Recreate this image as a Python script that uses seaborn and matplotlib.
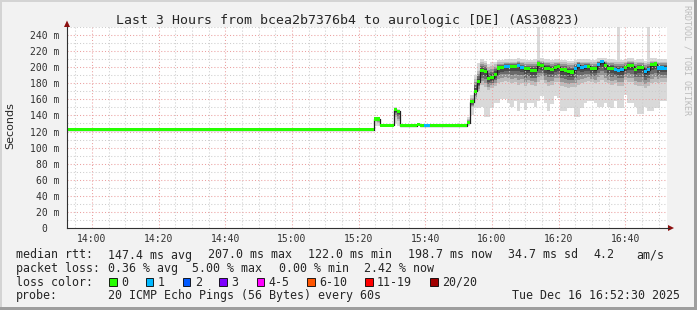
import numpy as np
import pandas as pd
import matplotlib
matplotlib.use("Agg")
import matplotlib.pyplot as plt
from matplotlib.patches import Rectangle, Polygon
from matplotlib.lines import Line2D
import seaborn as sns

# ---------------- data ----------------
title = "Last 3 Hours from bcea2b7376b4 to aurologic [DE] (AS30823)"
start_time = "13:52:30"          # left edge of the time axis
x_tick_labels = ["14:00", "14:20", "14:40", "15:00", "15:20",
                 "15:40", "16:00", "16:20", "16:40"]
y_ticks_ms = [0, 20, 40, 60, 80, 100, 120, 140, 160, 180, 200, 220, 240]
y_tick_labels = ["0  ", "20 m", "40 m", "60 m", "80 m", "100 m", "120 m",
                 "140 m", "160 m", "180 m", "200 m", "220 m", "240 m"]
y_label = "Seconds"

# median rtt per minute (ms), 180 one-minute samples
median_ms = [
    122, 122, 122, 122, 122, 122, 122, 122, 122, 122,
    122, 122, 122, 122, 122, 122, 122, 122, 122, 122,
    122, 122, 122, 122, 122, 122, 122, 122, 122, 122,
    122, 122, 122, 122, 122, 122, 122, 122, 122, 122,
    122, 122, 122, 122, 122, 122, 122, 122, 122, 122,
    122, 122, 122, 122, 122, 122, 122, 122, 122, 122,
    122, 122, 122, 122, 122, 122, 122, 122, 122, 122,
    122, 122, 122, 122, 122, 122, 122, 122, 122, 122,
    122, 122, 122, 122, 122, 122, 122, 122, 122, 122,
    122, 122, 135.6, 135.6, 128, 128, 128, 128, 147, 145,
    127, 127, 127, 127, 127, 129, 127, 127, 127, 127,
    127, 127, 127, 127, 127, 127, 127, 127, 127, 127,
    131, 157, 170, 182, 196, 195, 186, 187, 191, 199,
    200, 201, 201, 201, 201, 202, 199.5, 198, 198, 196,
    196, 204, 202, 198.5, 198.5, 197.6, 199.5, 200.7, 196.6, 196.5,
    194.5, 194, 198.6, 202.4, 199.5, 200.5, 201, 198, 198, 203.7,
    207, 202.4, 198.6, 198.6, 197, 196, 197, 199.7, 202.4, 202,
    197.3, 199.7, 199.5, 194.5, 197, 203, 204, 199, 199, 198.7,
]

# lost pings (of 20) per minute
loss_count = [
    0, 0, 0, 0, 0, 0, 0, 0, 0, 0, 0, 0, 0, 0, 0, 0, 0, 0, 0, 0, 0, 0, 0, 0, 0, 0, 0, 0, 0, 0,
    0, 0, 0, 0, 0, 0, 0, 0, 0, 0, 0, 0, 0, 0, 0, 0, 0, 0, 0, 0, 0, 0, 0, 0, 0, 0, 0, 0, 0, 0,
    0, 0, 0, 0, 0, 0, 0, 0, 0, 0, 0, 0, 0, 0, 0, 0, 0, 0, 0, 0, 0, 0, 0, 0, 0, 0, 0, 0, 0, 0,
    0, 0, 0, 0, 0, 0, 0, 0, 0, 0, 0, 0, 0, 0, 0, 0, 0, 1, 1, 0, 0, 0, 0, 0, 0, 0, 0, 0, 0, 0,
    0, 0, 0, 0, 0, 0, 0, 0, 0, 0, 0, 1, 1, 0, 0, 1, 1, 0, 0, 0, 0, 0, 0, 0, 0, 0, 0, 0, 0, 0,
    0, 0, 1, 1, 1, 1, 0, 0, 0, 1, 1, 0, 0, 0, 1, 1, 1, 0, 0, 0, 0, 0, 0, 1, 1, 0, 0, 1, 1, 1,
]

# smoke (distribution of the 20 pings) from minute 90 on
smoke_first_minute = 90
smoke_min = [
    122, 122, 127, 127, 127.5, 127.5, 127.5, 127.5, 130, 127,
    126.5, 126.5, 126.5, 126.5, 126.5, 127, 126.5, 126.5, 126.5, 126.5,
    126.5, 126.5, 126.5, 126.5, 126.5, 126.5, 126.5, 126.5, 126.5, 126.5,
    127, 140, 149, 149, 150, 138.5, 138, 149, 156, 156,
    160, 160, 156, 150, 158, 145, 156, 147, 156, 156,
    150, 158, 164, 156, 145, 154, 164, 162, 145, 145,
    149, 149, 137.5, 137.5, 149, 155, 158, 158, 155, 151,
    151, 155, 151, 149, 158, 149, 149, 165, 155, 155,
    151, 142, 142, 151, 145, 145, 149, 149, 158, 158,
]
smoke_p25 = [
    122, 122, 132, 130, 128, 128, 128, 128, 138, 133,
    127, 127, 127, 127, 127, 128, 127, 127, 127, 127,
    127, 127, 127, 127, 127, 127, 127, 127, 127, 127,
    129, 150, 160, 170, 178, 175, 172, 174, 176, 180,
    182, 183, 182, 180, 182, 178, 180, 176, 180, 178,
    176, 182, 184, 180, 176, 178, 182, 182, 176, 175,
    174, 175, 175, 178, 180, 182, 183, 181, 180, 182,
    184, 182, 180, 178, 180, 176, 176, 184, 182, 182,
    178, 176, 176, 174, 176, 180, 182, 180, 182, 182,
]
smoke_p75 = [
    122, 122, 137, 136, 128, 128, 128, 128, 149, 146,
    127, 127, 127, 127, 127, 129.5, 127, 127, 127, 127,
    127, 127, 127, 127, 127, 127, 127, 127, 127, 127,
    135, 162, 185, 195, 206, 205, 200, 202, 204, 206,
    206, 207, 207, 207, 207, 208, 207, 206, 206, 206,
    206, 209, 208, 207, 207, 206, 207, 207, 206, 206,
    205, 205, 206, 207, 207, 207, 207, 206, 206, 208,
    209, 208, 207, 207, 206, 206, 206, 207, 208, 208,
    206, 207, 207, 205, 206, 208, 208, 207, 207, 207,
]
smoke_max = [
    122, 122, 138, 137, 128.5, 128.5, 128.5, 128.5, 150, 148,
    127.5, 127.5, 127.5, 127.5, 127.5, 130, 127.5, 127.5, 127.5, 127.5,
    127.5, 127.5, 127.5, 127.5, 127.5, 127.5, 127.5, 130, 127.5, 127.5,
    138, 166, 190, 205, 210, 208, 204, 206, 207, 209,
    209, 210, 210, 210, 210, 211, 210, 209, 209, 209,
    210, 252, 212, 210, 210, 209, 210, 210, 209, 209,
    208, 208, 209, 210, 210, 210, 210, 209, 209, 211,
    212, 211, 210, 210, 209, 252, 209, 210, 211, 211,
    209, 210, 210, 208, 252, 211, 211, 210, 210, 210,
]

loss_levels = ["0", "1", "2", "3", "4-5", "6-10", "11-19", "20/20"]
loss_colors = ["#26ff00", "#00b8ff", "#0059ff", "#7e00ff",
               "#ff00ff", "#ff5500", "#ff0000", "#a10000"]

rtt_label = "median rtt:"
rtt_stats = ["147.4 ms avg", "207.0 ms max", "122.0 ms min",
             "198.7 ms now", "34.7 ms sd", "4.2", "am/s"]
loss_label = "packet loss:"
loss_stats = ["0.36 % avg", "5.00 % max", "0.00 % min", "2.42 % now"]
color_label = "loss color:"
probe_label = "probe:"
probe_text = "20 ICMP Echo Pings (56 Bytes) every 60s"
stamp_text = "Tue Dec 16 16:52:30 2025"
credit_text = "RRDTOOL / TOBI OETIKER"

# ---------------- style ----------------
W, H = 697, 310
BACK = "#f2f2f2"
GRID = "#cdcdcd"
MGRID = "#eba0a0"
AXIS = "#303030"
ARROW = "#8c1010"
MONO = ["DejaVu Sans Mono", "DejaVu Sans"]

sns.set_theme(style="white")
plt.rcParams["font.family"] = MONO

fig = plt.figure(figsize=(W / 100, H / 100), dpi=100, facecolor=BACK)


def fx(px):
    return px / W


def fy(py):
    return 1 - py / H


# 3-D style frame
for (x0, y0, w, h, c) in [(0, 0, 2, H, "#d4d4d4"), (0, 0, W, 2, "#d4d4d4"),
                          (W - 3, 0, 3, H, "#9e9e9e"), (0, H - 3, W, 3, "#9e9e9e")]:
    fig.add_artist(Rectangle((fx(x0), fy(y0 + h)), w / W, h / H,
                             transform=fig.transFigure, color=c, lw=0))

ax = fig.add_axes([fx(67), fy(228), 600 / W, 201 / H])
ax.set_facecolor("white")
ax.set_xlim(0, 180)
ax.set_ylim(0, 250)


def tmin(s):
    parts = [float(p) for p in s.split(":")]
    return parts[0] * 60 + parts[1] + (parts[2] / 60 if len(parts) > 2 else 0)


t0 = tmin(start_time)
x_ticks = [tmin(s) - t0 for s in x_tick_labels]

n = len(median_ms)
minutes = np.arange(n)
med = np.asarray(median_ms, float)


def ext(a):
    a = np.asarray(a, float)
    return np.append(a, a[-1])


# ---- smoke ----
s0 = smoke_first_minute
sx = np.arange(s0, s0 + len(smoke_min) + 1)
med_s = ext(med[s0:])
ax.fill_between(sx, ext(smoke_min), ext(smoke_max), step="post",
                color="#d9d9d9", lw=0, zorder=1)
for f, c in [(1.0, "#bcbcbc"), (0.75, "#959595"), (0.5, "#6a6a6a"),
             (0.3, "#4a4a4a"), (0.12, "#333333")]:
    lo = med_s - f * (med_s - ext(smoke_p25))
    hi = med_s + f * (ext(smoke_p75) - med_s)
    ax.fill_between(sx, lo, hi, step="post", color=c, lw=0, zorder=1)

# ---- grid ----
dots = (0, (1, 2))
for m in np.arange(x_ticks[0] - 5, 180, 5):
    major = any(abs(m - xt) < 1e-6 for xt in x_ticks)
    ax.axvline(m, color=MGRID if major else GRID, lw=0.75, ls=dots, zorder=2)
for v in range(10, 251, 10):
    ax.axhline(v, color=MGRID if v in y_ticks_ms else GRID, lw=0.75, ls=dots, zorder=2)

# ---- median line + loss coloured bars ----
df = pd.DataFrame({"minute": np.append(minutes, n), "rtt": ext(med)})
sns.lineplot(data=df, x="minute", y="rtt", drawstyle="steps-post",
             color="#202020", lw=0.9, estimator=None, ax=ax, zorder=4)


def loss_idx(c):
    if c <= 3:
        return c
    if c <= 5:
        return 4
    if c <= 10:
        return 5
    if c <= 19:
        return 6
    return 7


bar_colors = [loss_colors[loss_idx(c)] for c in loss_count]
half = 1.9
ax.bar(minutes, 2 * half, bottom=med - half, width=1.0, align="edge",
       color=bar_colors, lw=0, zorder=5)

# ---- axes, ticks ----
ax.set_xlabel("")
ax.set_ylabel("")
for s in ["top", "right"]:
    ax.spines[s].set_visible(False)
for s in ["left", "bottom"]:
    ax.spines[s].set_color(AXIS)
    ax.spines[s].set_linewidth(0.8)
    ax.spines[s].set_zorder(6)
ax.set_xticks(x_ticks)
ax.set_xticklabels(x_tick_labels)
ax.set_xticks(np.arange(x_ticks[0] - 5, 180, 5), minor=True)
ax.set_yticks(y_ticks_ms)
ax.set_yticklabels(y_tick_labels)
ax.set_yticks(range(10, 251, 20), minor=True)
ax.tick_params(axis="both", which="major", labelsize=7, colors=AXIS, width=0.8)
ax.tick_params(axis="x", which="major", direction="inout", length=4, pad=2.5)
ax.tick_params(axis="x", which="minor", direction="inout", length=2, width=0.6, colors=AXIS)
ax.tick_params(axis="y", which="major", direction="out", length=3, pad=2.5)
ax.tick_params(axis="y", which="minor", direction="out", length=1.5, width=0.6, colors=AXIS)
for lab in ax.get_xticklabels() + ax.get_yticklabels():
    lab.set_family(MONO)

# arrows
fig.add_artist(Polygon([(fx(64), fy(27)), (fx(70), fy(27)), (fx(67), fy(20.5))],
                       closed=True, transform=fig.transFigure, color=ARROW, lw=0))
fig.add_artist(Line2D([fx(667), fx(669)], [fy(228), fy(228)], transform=fig.transFigure,
                      color=AXIS, lw=0.8))
fig.add_artist(Polygon([(fx(668), fy(225)), (fx(668), fy(231)), (fx(674), fy(228))],
                       closed=True, transform=fig.transFigure, color=ARROW, lw=0))

# ---- texts ----
fig.text(fx(347.5), fy(24), title, ha="center", va="baseline", fontsize=9.5, family=MONO)
fig.text(fx(10), fy(126), y_label, rotation=90, ha="center", va="center",
         fontsize=8, family=["DejaVu Sans"])
fig.text(fx(687), fy(60), credit_text, rotation=270, ha="center", va="center",
         fontsize=6, color="#bcbcbc", family=MONO)

LFS = 8.4
rows = [258.5, 272.2, 285.8, 299.4]
fig.text(fx(15.5), fy(rows[0]), rtt_label, fontsize=LFS, va="baseline", family=MONO)
for xp, s in zip([107.6, 207.6, 307.6, 407.6, 507.6, 593.3, 636.4], rtt_stats):
    fig.text(fx(xp), fy(rows[0]), s, fontsize=LFS, va="baseline", family=MONO)
fig.text(fx(15.5), fy(rows[1]), loss_label, fontsize=LFS, va="baseline", family=MONO)
for xp, s in zip([107.6, 192.0, 279.0, 364.4], loss_stats):
    fig.text(fx(xp), fy(rows[1]), s, fontsize=LFS, va="baseline", family=MONO)
fig.text(fx(15.5), fy(rows[2]), color_label, fontsize=LFS, va="baseline", family=MONO)
for xp, lvl, c in zip([109, 145.7, 182.7, 219.3, 256.7, 307.3, 365, 430],
                      loss_levels, loss_colors):
    fig.add_artist(Rectangle((fx(xp), fy(rows[2])), 7.7 / W, 8.2 / H,
                             transform=fig.transFigure, facecolor=c,
                             edgecolor="black", lw=0.6))
    fig.text(fx(xp + 12), fy(rows[2]), lvl, fontsize=LFS, va="baseline", family=MONO)
fig.text(fx(15.5), fy(rows[3]), probe_label, fontsize=LFS, va="baseline", family=MONO)
fig.text(fx(107.6), fy(rows[3]), probe_text, fontsize=LFS, va="baseline", family=MONO)
fig.text(fx(680), fy(rows[3]), stamp_text, fontsize=LFS, va="baseline", ha="right",
         family=MONO)

fig.savefig("out.png", dpi=100, facecolor=BACK)
